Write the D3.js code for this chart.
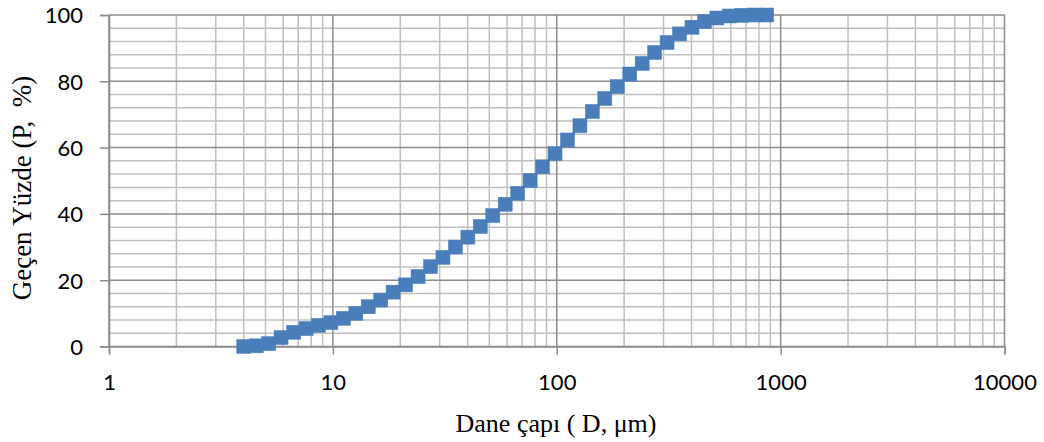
<!DOCTYPE html>
<html>
<head>
<meta charset="utf-8">
<script src="https://cdn.jsdelivr.net/npm/d3@7"></script>
<style>
  body { margin: 0; background: #fff; }
  .tick-label { font-family: Lato, "Open Sans", sans-serif; font-size: 22px; fill: #000; }
  .axis-title { font-family: "Liberation Serif", "Times New Roman", serif; font-size: 26px; fill: #000; }
</style>
</head>
<body>
<svg id="chart"></svg>
<script>
// particle size (um) and percent passing
const sizes = [4.00, 4.55, 5.17, 5.87, 6.68, 7.59, 8.62, 9.80, 11.14, 12.66,
  14.39, 16.36, 18.59, 21.13, 24.02, 27.30, 31.03, 35.27, 40.09, 45.56,
  51.79, 58.86, 66.90, 76.04, 86.43, 98.24, 111.7, 126.9, 144.2, 163.9,
  186.3, 211.8, 240.7, 273.6, 311.0, 353.5, 401.8, 456.7, 519.1, 590.0,
  670.6, 762.2, 866.4];
const passing = [0, 0.2, 0.85, 2.7, 4.3, 5.4, 6.4, 7.2, 8.5, 10.0,
  12.0, 14.0, 16.4, 18.6, 21.1, 24.1, 26.9, 30.0, 33.0, 36.2,
  39.5, 42.9, 46.2, 50.1, 54.2, 58.2, 62.3, 66.6, 70.9, 74.8,
  78.4, 82.2, 85.4, 88.7, 91.7, 94.3, 96.3, 98.0, 99.1, 99.7,
  99.9, 100, 100];
const xTicks = [1, 10, 100, 1000, 10000];
const yTicks = [0, 20, 40, 60, 80, 100];

const W = 1044, H = 442;
const margin = { top: 15, right: 39.5, bottom: 95.5, left: 109 };

const svg = d3.select("#chart").attr("width", W).attr("height", H);

const x = d3.scaleLog().domain([1, 10000]).range([margin.left, W - margin.right]);
const y = d3.scaleLinear().domain([0, 100]).range([H - margin.bottom, margin.top]);

const data = sizes.map((d, i) => ({ size: d, p: passing[i] }));

// minor grid
const minorX = [];
for (let dec = 1; dec < 10000; dec *= 10) {
  for (let k = 2; k <= 9; k++) minorX.push(dec * k);
}
const minorY = d3.range(0, 101, 4).filter(v => v % 20 !== 0);

const grid = svg.append("g");
grid.selectAll(".mx").data(minorX).join("line")
  .attr("x1", d => x(d)).attr("x2", d => x(d))
  .attr("y1", y(0)).attr("y2", y(100))
  .attr("stroke", "#bfbfbf").attr("stroke-width", 1.5);
grid.selectAll(".my").data(minorY).join("line")
  .attr("x1", x(1)).attr("x2", x(10000))
  .attr("y1", d => y(d)).attr("y2", d => y(d))
  .attr("stroke", "#bfbfbf").attr("stroke-width", 1.5);

// major grid
grid.selectAll(".Mx").data(xTicks).join("line")
  .attr("x1", d => x(d)).attr("x2", d => x(d))
  .attr("y1", y(0)).attr("y2", y(100))
  .attr("stroke", "#8c8c8c").attr("stroke-width", 1.5);
grid.selectAll(".My").data(yTicks).join("line")
  .attr("x1", x(1)).attr("x2", x(10000))
  .attr("y1", d => y(d)).attr("y2", d => y(d))
  .attr("stroke", "#8c8c8c").attr("stroke-width", 1.5);

// axes
const xAxis = svg.append("g")
  .attr("transform", "translate(0," + y(0) + ")")
  .call(d3.axisBottom(x).tickValues(xTicks).tickFormat(d3.format("d")).tickSize(8).tickPadding(18));
const yAxis = svg.append("g")
  .attr("transform", "translate(" + x(1) + ",0)")
  .call(d3.axisLeft(y).tickValues(yTicks).tickSize(9).tickPadding(17));

[xAxis, yAxis].forEach(a => {
  a.select(".domain").attr("stroke", "#8c8c8c").attr("stroke-width", 1.5);
  a.selectAll(".tick line").attr("stroke", "#8c8c8c").attr("stroke-width", 1.5);
  a.selectAll(".tick text").attr("class", "tick-label").attr("font-size", null).attr("font-family", null);
});
xAxis.selectAll(".tick text").attr("dy", null).attr("y", 0).attr("transform", "translate(0,43)");
yAxis.selectAll(".tick text").attr("dy", "0.36em");

// series
svg.append("path")
  .datum(data)
  .attr("fill", "none")
  .attr("stroke", "#4a7ebb")
  .attr("stroke-width", 2.5)
  .attr("d", d3.line().x(d => x(d.size)).y(d => y(d.p)));

const ms = 14;
svg.selectAll(".marker").data(data).join("rect")
  .attr("x", d => x(d.size) - ms / 2)
  .attr("y", d => y(d.p) - ms / 2)
  .attr("width", ms).attr("height", ms)
  .attr("fill", "#4a7ebb")
  .attr("stroke", "#4a7ebb").attr("stroke-width", 0.5);

// titles
svg.append("text").attr("class", "axis-title")
  .attr("x", 556).attr("y", 432)
  .attr("text-anchor", "middle")
  .text("Dane çapı ( D, μm)");
svg.append("text").attr("class", "axis-title")
  .attr("transform", "translate(31,188) rotate(-90)")
  .attr("text-anchor", "middle")
  .style("font-size", "27px")
  .style("white-space", "pre")
  .text("Geçen Yüzde (P,  %)");
</script>
</body>
</html>
